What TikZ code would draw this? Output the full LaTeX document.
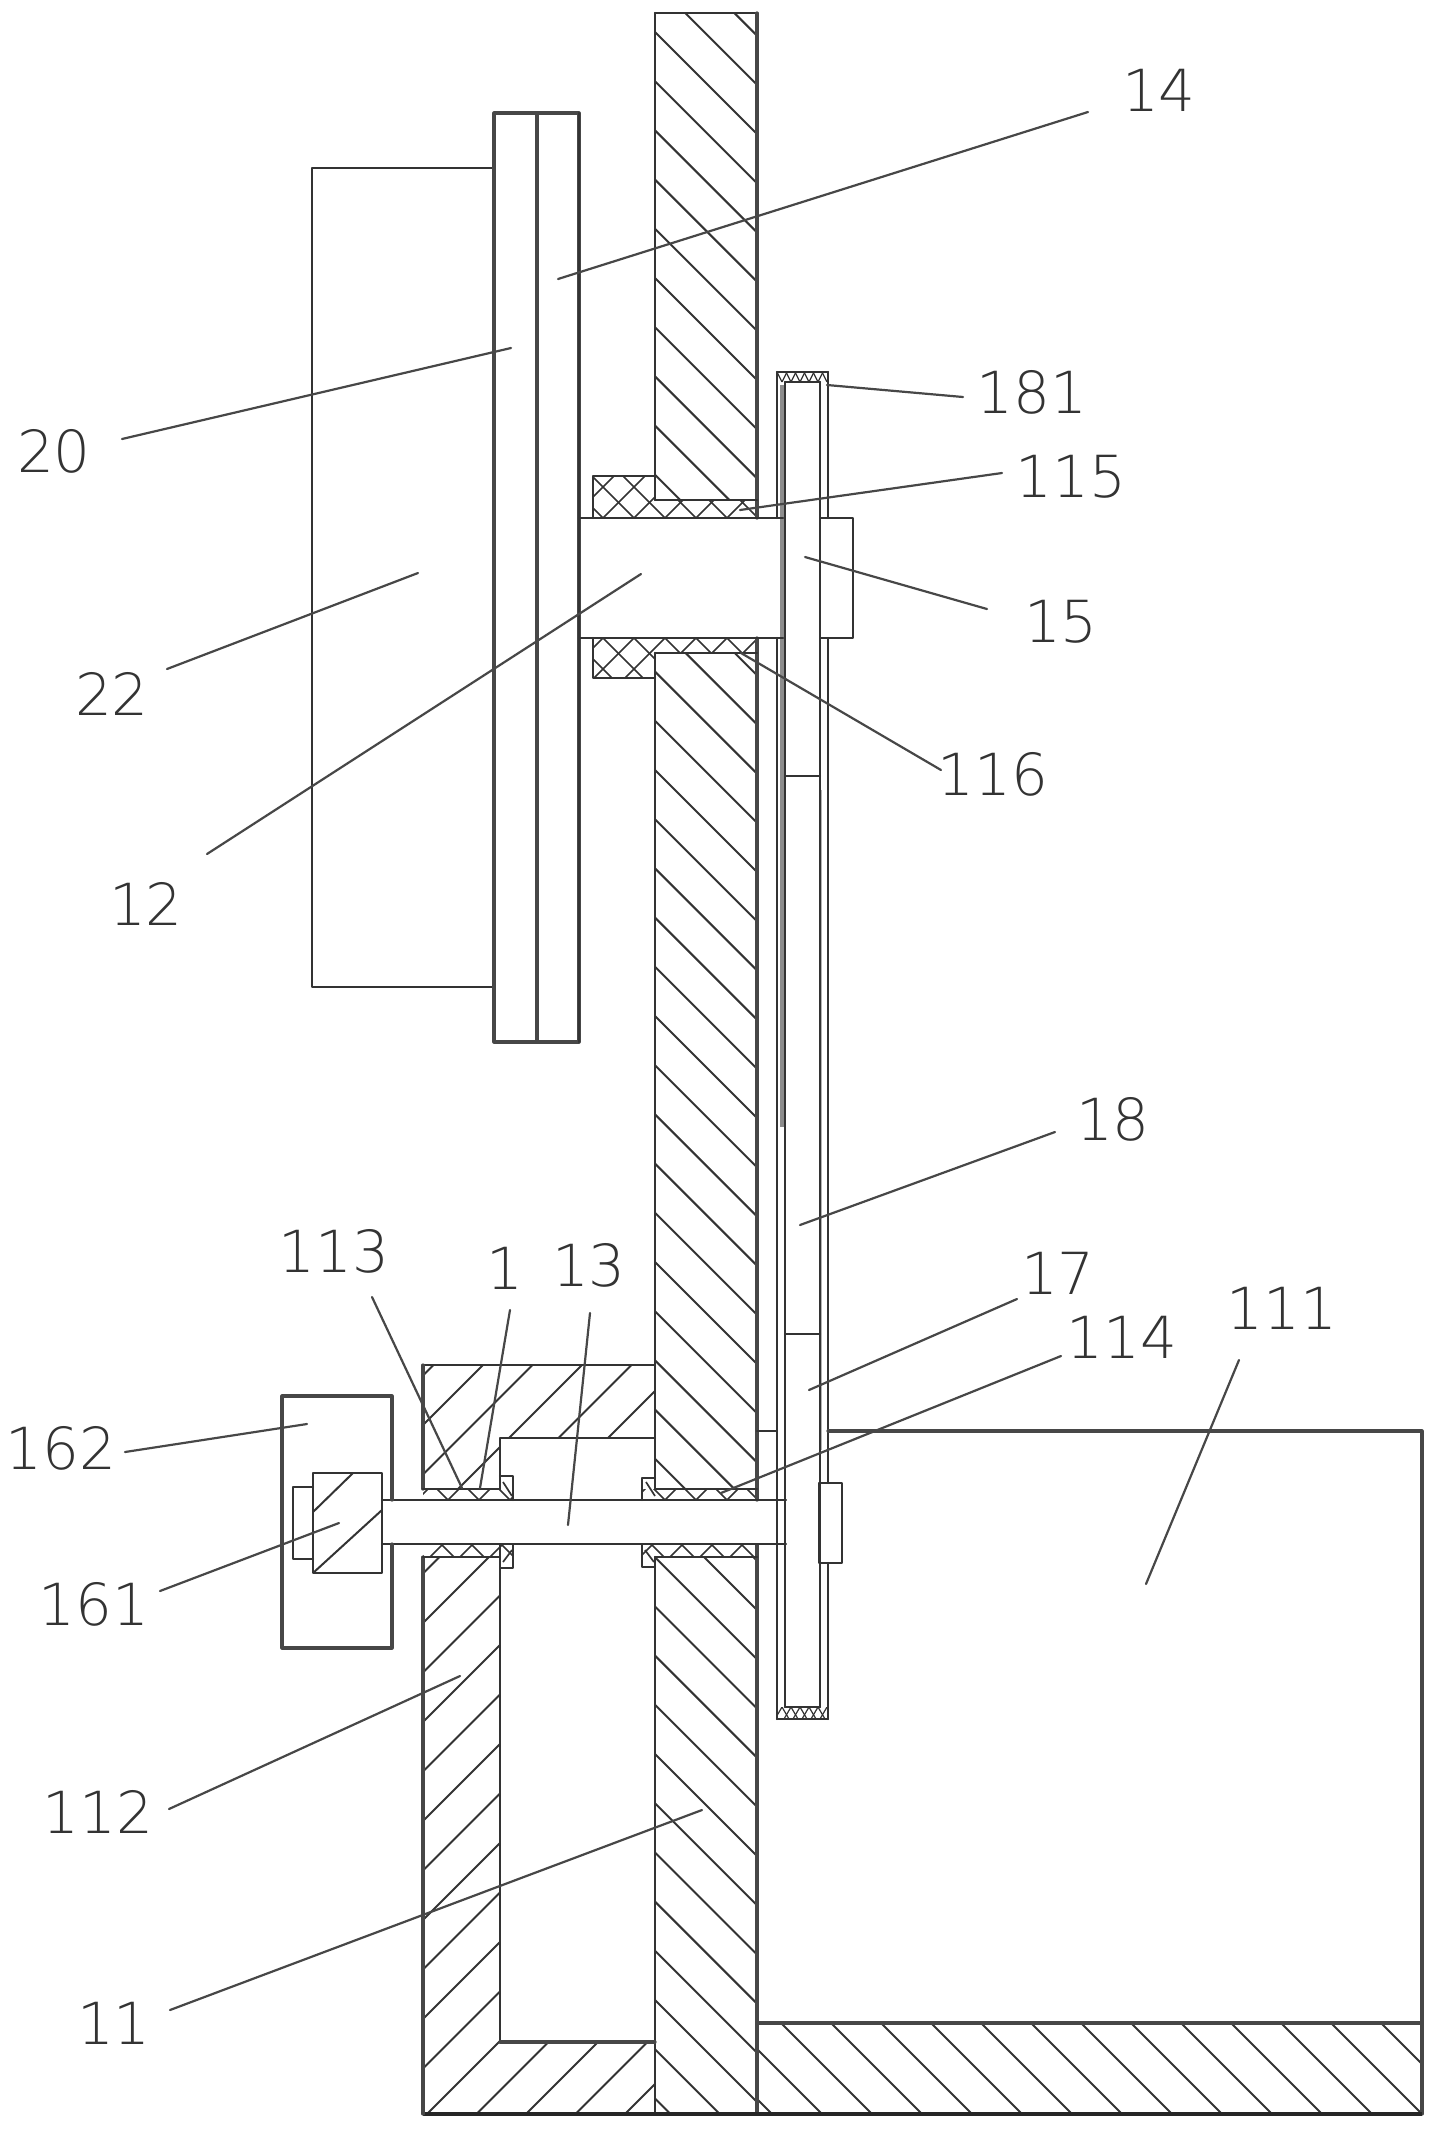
\documentclass[tikz,border=0pt]{standalone}
\usepackage{fontspec}
\setmainfont{DejaVu Sans ExtraLight}
\tikzset{
  x=1pt,y=-1pt,
  ol/.style={draw=black!80,line width=2.3pt,line cap=round,line join=round},
  ols/.style={draw=black!72,line width=3.2pt,line cap=round,line join=round},
  hatch/.style={draw=black!80,line width=2pt},
  fine/.style={draw=black!80,line width=1.7pt},
  leader/.style={draw=black!72,line width=2.2pt,line cap=round},
  lab/.style={text=black!80,font=\fontsize{58}{58}\selectfont,inner sep=0pt,anchor=center}
}
\begin{document}
\begin{tikzpicture}
\useasboundingbox (0,0) rectangle (1435,2129);
% --- hatching of the wall
\begin{scope}
\clip (655,13) rectangle (757,500) (655,653) rectangle (757,1489) (655,1557) rectangle (757,2114);
\foreach \k in {-3,...,42}{\pgfmathsetmacro\cc{-623+49.2*\k}
  \draw[hatch] (600,{600+\cc}) -- (800,{800+\cc});}
\end{scope}
% --- hatching of the tank floor
\begin{scope}
\clip (757,2023) rectangle (1422,2114);
\foreach \k in {-13,...,3}{\pgfmathsetmacro\cc{1242+50*\k}
  \draw[hatch] (700,{700+\cc}) -- (1500,{1500+\cc});}
\end{scope}
% --- hatching of the left block
\begin{scope}
\clip (423,1365) -- (655,1365) -- (655,1438) -- (500,1438) -- (500,1489) -- (423,1489) -- cycle
 (423,1557) -- (500,1557) -- (500,2042) -- (655,2042) -- (655,2114) -- (423,2114) -- cycle;
\foreach \k in {-1,...,18}{\pgfmathsetmacro\cc{1848+49.5*\k}
  \draw[hatch] (380,{\cc-380}) -- (700,{\cc-700});}
\end{scope}
% --- cross hatching of the upper bushing
\begin{scope}
\clip (593,476) -- (655,476) -- (655,500) -- (757,500) -- (757,518) -- (593,518) -- cycle
 (593,638) -- (757,638) -- (757,653) -- (655,653) -- (655,678) -- (593,678) -- cycle;
\foreach \k in {-3,...,8}{\pgfmathsetmacro\aa{603+31*\k}
  \draw[fine] (\aa,518) -- ({\aa+60},458);
  \draw[fine] (\aa,518) -- ({\aa-60},458);
  \draw[fine] (\aa,638) -- ({\aa+60},698);
  \draw[fine] (\aa,638) -- ({\aa-60},698);}
\end{scope}
% --- small bushings of the lower shaft
\begin{scope}
\clip (423,1489) rectangle (513,1500) (642,1489) rectangle (757,1500);
\foreach \k in {-8,...,3}{\pgfmathsetmacro\aa{665+31*\k}
  \draw[fine] (\aa,1500) -- ({\aa+14},1486);
  \draw[fine] (\aa,1500) -- ({\aa-14},1486);}
\end{scope}
\begin{scope}
\clip (423,1545) rectangle (513,1557) (642,1545) rectangle (757,1557);
\foreach \k in {-9,...,2}{\pgfmathsetmacro\aa{682+30*\k}
  \draw[fine] (\aa,1545) -- ({\aa+14},1559);
  \draw[fine] (\aa,1545) -- ({\aa-14},1559);}
\end{scope}
% flange marks
\draw[fine] (503,1482) -- (512,1496) (646,1482) -- (655,1496) (503,1562) -- (512,1550) (645,1550) -- (654,1562);
% --- hatching of the nut
\draw[hatch] (313,1512) -- (353,1473) (313,1573) -- (382,1510);
% --- gray band of the belt
\fill[black!45] (779.5,385) rectangle (784,1127);
\fill[black!30] (819,790) rectangle (822,1450);
% --- belt end marks
\begin{scope}
\clip (777,372) rectangle (828,382) (777,1707) rectangle (828,1719);
\foreach \k in {0,...,5}{\pgfmathsetmacro\aa{782+9*\k}
  \draw[draw=black!80,line width=1.2pt] (\aa,382) -- ({\aa+5},372) (\aa,382) -- ({\aa-5},372);
  \draw[draw=black!80,line width=1.2pt] (\aa,1707) -- ({\aa+7},1719) (\aa,1707) -- ({\aa-7},1719);}
\end{scope}
% --- outlines
\draw[ol] (493,168) -- (312,168) -- (312,987) -- (493,987);
\draw[ols] (494,113) rectangle (579,1042);
\draw[ol] (579,113) -- (579,1042);
\draw[ols] (537,113) -- (537,1042);
\draw[ol] (655,13) -- (757,13);
\draw[ol] (655,13) -- (655,500) (655,653) -- (655,1489) (655,1557) -- (655,2114);
\draw[ols] (757,13) -- (757,518) (757,638) -- (757,1500) (757,1545) -- (757,2114);
% upper shaft and bushing
\draw[ol] (579,518) -- (783,518) (579,638) -- (783,638);
\draw[ol] (593,518) -- (593,476) -- (655,476) (655,500) -- (757,500);
\draw[ol] (593,638) -- (593,678) -- (655,678) (655,653) -- (757,653);
% belt
\draw[ol] (777,372) -- (777,518) (777,638) -- (777,1719);
\draw[ol] (785,382) -- (785,1707);
\draw[ol] (820,382) -- (820,1707);
\draw[ol] (828,372) -- (828,518) (828,638) -- (828,1483) (828,1563) -- (828,1719);
\draw[ol] (777,372) -- (828,372) (785,382) -- (820,382);
\draw[ol] (777,1719) -- (828,1719) (785,1707) -- (820,1707);
\draw[ol] (820,518) rectangle (853,638);
\draw[ol] (819,1483) rectangle (842,1563);
\draw[ol] (785,776) -- (820,776) (785,1334) -- (820,1334);
% tank
\draw[ol] (757,1431) -- (777,1431);
\draw[ols] (828,1431) -- (1422,1431) -- (1422,2114);
\draw[ols] (757,2023) -- (1422,2023);
\draw[draw=black!85,line width=3.6pt] (423,2114) -- (1422,2114);
% left block
\draw[ol] (655,1365) -- (423,1365);
\draw[ols] (423,1365) -- (423,1489) (423,1557) -- (423,2114);
\draw[ol] (655,1438) -- (500,1438) -- (500,1489) (500,1557) -- (500,2042);
\draw[ols] (500,2042) -- (655,2042);
\draw[ol] (423,1489) -- (500,1489) (423,1557) -- (500,1557);
\draw[ol] (655,1489) -- (757,1489) (655,1557) -- (757,1557);
\draw[ol] (500,1476) -- (513,1476) -- (513,1500) (500,1545) -- (500,1568) -- (513,1568) -- (513,1545);
\draw[ol] (642,1500) -- (642,1478) -- (655,1478) (642,1545) -- (642,1567) -- (655,1567);
% lower shaft, nut and box
\draw[ol] (382,1500) -- (786,1500) (382,1544) -- (786,1544);
\draw[ols] (392,1500) -- (392,1396) -- (282,1396) -- (282,1648) -- (392,1648) -- (392,1544);
\draw[ol] (313,1473) rectangle (382,1573);
\draw[ol] (313,1487) -- (293,1487) -- (293,1559) -- (313,1559);
% --- labels
\node[lab] (n14) at (1159,90) {14};
\node[lab] (n20) at (54,451) {20};
\node[lab] (n22) at (112,694) {22};
\node[lab] (n12) at (146,904) {12};
\node[lab] (n181) at (1032,392) {181};
\node[lab] (n115) at (1071,477) {115};
\node[lab] (n15) at (1061,622) {15};
\node[lab] (n116) at (993,774) {116};
\node[lab] (n18) at (1113,1119) {18};
\node[lab] (n17) at (1058,1273) {17};
\node[lab] (n114) at (1122,1337) {114};
\node[lab] (n111) at (1282,1308) {111};
\node[lab] (n113) at (334,1251) {113};
\node[lab] (n1) at (505,1268) {1};
\node[lab] (n13) at (589,1265) {13};
\node[lab] (n162) at (61,1448) {162};
\node[lab] (n161) at (94,1604) {161};
\node[lab] (n112) at (98,1812) {112};
\node[lab] (n11) at (114,2023) {11};
% --- leaders
\coordinate (a14) at (1088,112); \coordinate (b14) at (558,279);
\coordinate (a20) at (122,439); \coordinate (b20) at (511,348);
\coordinate (a22) at (167,669); \coordinate (b22) at (418,573);
\coordinate (a12) at (207,854); \coordinate (b12) at (641,574);
\coordinate (a181) at (963,397); \coordinate (b181) at (827,385);
\coordinate (a115) at (1002,473); \coordinate (b115) at (740,510);
\coordinate (a15) at (987,609); \coordinate (b15) at (805,557);
\coordinate (a116) at (941,770); \coordinate (b116) at (741,653);
\coordinate (a18) at (1055,1132); \coordinate (b18) at (800,1225);
\coordinate (a17) at (1017,1299); \coordinate (b17) at (809,1390);
\coordinate (a114) at (1061,1356); \coordinate (b114) at (721,1493);
\coordinate (a111) at (1239,1360); \coordinate (b111) at (1146,1584);
\coordinate (a113) at (372,1297); \coordinate (b113) at (462,1488);
\coordinate (a1) at (510,1310); \coordinate (b1) at (480,1488);
\coordinate (a13) at (590,1313); \coordinate (b13) at (568,1525);
\coordinate (a162) at (125,1452); \coordinate (b162) at (307,1424);
\coordinate (a161) at (160,1591); \coordinate (b161) at (339,1523);
\coordinate (a112) at (169,1809); \coordinate (b112) at (460,1676);
\coordinate (a11) at (170,2010); \coordinate (b11) at (702,1810);
\foreach \q in {14,20,22,12,181,115,15,116,18,17,114,111,113,1,13,162,161,112,11}
  \draw[leader] (a\q) -- (b\q);
\end{tikzpicture}
\end{document}
